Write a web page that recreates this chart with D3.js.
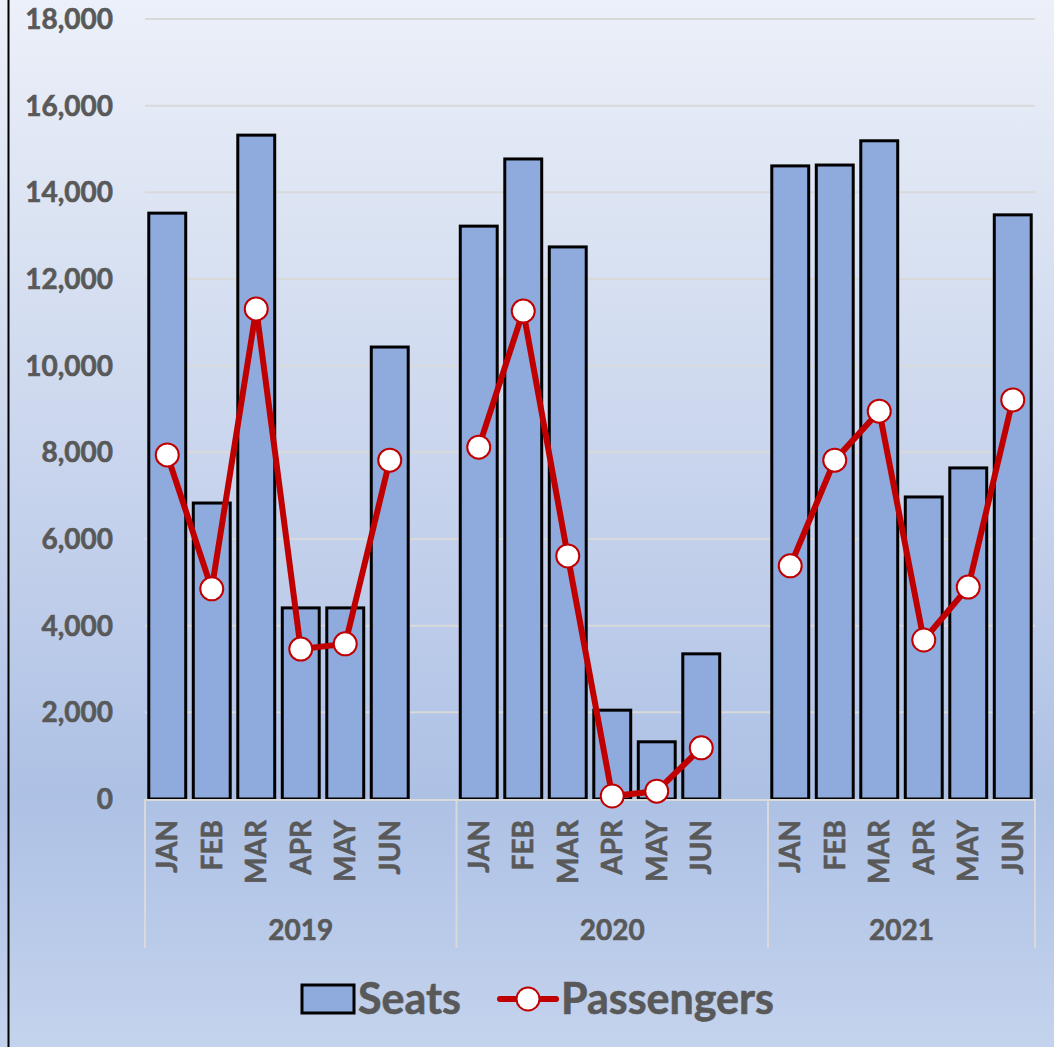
<html>
<head>
<script src="https://d3js.org/d3.v7.min.js"></script>
<style>
body { margin: 0; }
text { font-family: Lato, "Open Sans", sans-serif; font-weight: bold; fill: #595959;
       stroke: #595959; stroke-width: 0.6px; }
</style>
</head>
<body>
<svg width="1054" height="1047"></svg>
<script>
// data
var years = ["2019", "2020", "2021"];
var months = ["JAN", "FEB", "MAR", "APR", "MAY", "JUN"];
var seats = [
  [13520, 6830, 15320, 4410, 4410, 10430],
  [13220, 14770, 12740, 2050, 1320, 3350],
  [14610, 14630, 15190, 6970, 7640, 13480]
];
var passengers = [
  [7940, 4850, 11310, 3460, 3580, 7820],
  [8120, 11260, 5610, 70, 180, 1180],
  [5380, 7820, 8950, 3670, 4890, 9210]
];
var yTicks = [0, 2000, 4000, 6000, 8000, 10000, 12000, 14000, 16000, 18000];

var svg = d3.select("svg");
var plotLeft = 145, plotRight = 1035, plotTop = 19, plotBottom = 799;

// background gradient
var grad = svg.append("defs").append("linearGradient")
  .attr("id", "bg").attr("x1", 0).attr("y1", 0).attr("x2", 0).attr("y2", 1);
[[0, "#ecf0f9"], [0.2, "#dce4f3"], [0.57, "#bfcdea"], [0.76, "#adc1e5"], [1, "#c4d3ed"]]
  .forEach(function(s){ grad.append("stop").attr("offset", s[0]).attr("stop-color", s[1]); });
svg.append("rect").attr("width", 1054).attr("height", 1047).attr("fill", "url(#bg)");
svg.append("line").attr("x1", 8.5).attr("x2", 8.5).attr("y1", 0).attr("y2", 1047)
  .attr("stroke", "#000").attr("stroke-width", 2);

// slots: each year's months, plus an empty slot after 2019 and 2020
var slots = [];
years.forEach(function(yr, yi){
  months.forEach(function(m){ slots.push(yr + "|" + m); });
  if (yi < years.length - 1) slots.push(yr + "|gap");
});

var x = d3.scaleBand().domain(slots).range([plotLeft, plotRight]).paddingInner(0.17).paddingOuter(0.085);
var y = d3.scaleLinear().domain([0, 18000]).range([plotBottom, plotTop]);

// gridlines
svg.append("g").selectAll("line").data(yTicks.slice(1)).enter().append("line")
  .attr("x1", plotLeft).attr("x2", plotRight)
  .attr("y1", function(d){ return y(d); }).attr("y2", function(d){ return y(d); })
  .attr("stroke", "#d9d9d9").attr("stroke-width", 2);

// y labels
svg.append("g").selectAll("text").data(yTicks).enter().append("text")
  .attr("x", 113).attr("y", function(d){ return y(d); })
  .attr("dy", "0.36em").attr("text-anchor", "end").style("font-size", "28px")
  .text(function(d){ return d3.format(",")(d); });

// bars
years.forEach(function(yr, yi){
  svg.append("g").selectAll("rect").data(seats[yi]).enter().append("rect")
    .attr("x", function(d, i){ return x(yr + "|" + months[i]); })
    .attr("width", x.bandwidth())
    .attr("y", function(d){ return y(d); })
    .attr("height", function(d){ return y(0) - y(d); })
    .attr("fill", "#8faadc").attr("stroke", "#000").attr("stroke-width", 3);
});

// category axis
svg.append("line").attr("x1", plotLeft).attr("x2", plotRight)
  .attr("y1", plotBottom + 1).attr("y2", plotBottom + 1)
  .attr("stroke", "#d9d9d9").attr("stroke-width", 2);
var step = x.step();
var bounds = [plotLeft];
years.forEach(function(yr, yi){
  if (yi < years.length - 1) {
    bounds.push(x(yr + "|gap") - step * x.paddingInner() / 2 + step);
  } else {
    bounds.push(plotRight);
  }
});
svg.append("g").selectAll("line").data(bounds).enter().append("line")
  .attr("x1", function(d){ return d; }).attr("x2", function(d){ return d; })
  .attr("y1", plotBottom).attr("y2", 948)
  .attr("stroke", "#d9d9d9").attr("stroke-width", 2);

years.forEach(function(yr, yi){
  svg.append("g").selectAll("text").data(months).enter().append("text")
    .attr("transform", function(m){
      return "translate(" + (x(yr + "|" + m) + x.bandwidth() / 2) + ",820) rotate(-90)";
    })
    .attr("dy", "0.36em").attr("text-anchor", "end").style("font-size", "28px")
    .text(function(m){ return m; });
  svg.append("text")
    .attr("x", (bounds[yi] + bounds[yi + 1]) / 2).attr("y", 930)
    .attr("dy", "0.36em").attr("text-anchor", "middle").style("font-size", "28px")
    .text(yr);
});

// passengers line, one segment per year
var line = d3.line()
  .x(function(d){ return x(d.k) + x.bandwidth() / 2; })
  .y(function(d){ return y(d.v); });
years.forEach(function(yr, yi){
  var pts = passengers[yi].map(function(v, i){ return { k: yr + "|" + months[i], v: v }; });
  svg.append("path").datum(pts).attr("d", line)
    .attr("fill", "none").attr("stroke", "#c00000").attr("stroke-width", 6)
    .attr("stroke-linejoin", "round");
  svg.append("g").selectAll("circle").data(pts).enter().append("circle")
    .attr("cx", function(d){ return x(d.k) + x.bandwidth() / 2; })
    .attr("cy", function(d){ return y(d.v); })
    .attr("r", 11.5).attr("fill", "#fff").attr("stroke", "#c00000").attr("stroke-width", 2);
});

// legend
var lg = svg.append("g");
lg.append("rect").attr("x", 302).attr("y", 985).attr("width", 52).attr("height", 28)
  .attr("fill", "#8faadc").attr("stroke", "#000").attr("stroke-width", 3);
lg.append("text").attr("x", 358).attr("y", 999).attr("dy", "0.36em")
  .style("font-size", "43px").text("Seats");
lg.append("line").attr("x1", 500).attr("x2", 556).attr("y1", 999).attr("y2", 999)
  .attr("stroke", "#c00000").attr("stroke-width", 6).attr("stroke-linecap", "round");
lg.append("circle").attr("cx", 528).attr("cy", 999).attr("r", 11.5)
  .attr("fill", "#fff").attr("stroke", "#c00000").attr("stroke-width", 2);
lg.append("text").attr("x", 561).attr("y", 999).attr("dy", "0.36em")
  .style("font-size", "43px").text("Passengers");
</script>
</body>
</html>
